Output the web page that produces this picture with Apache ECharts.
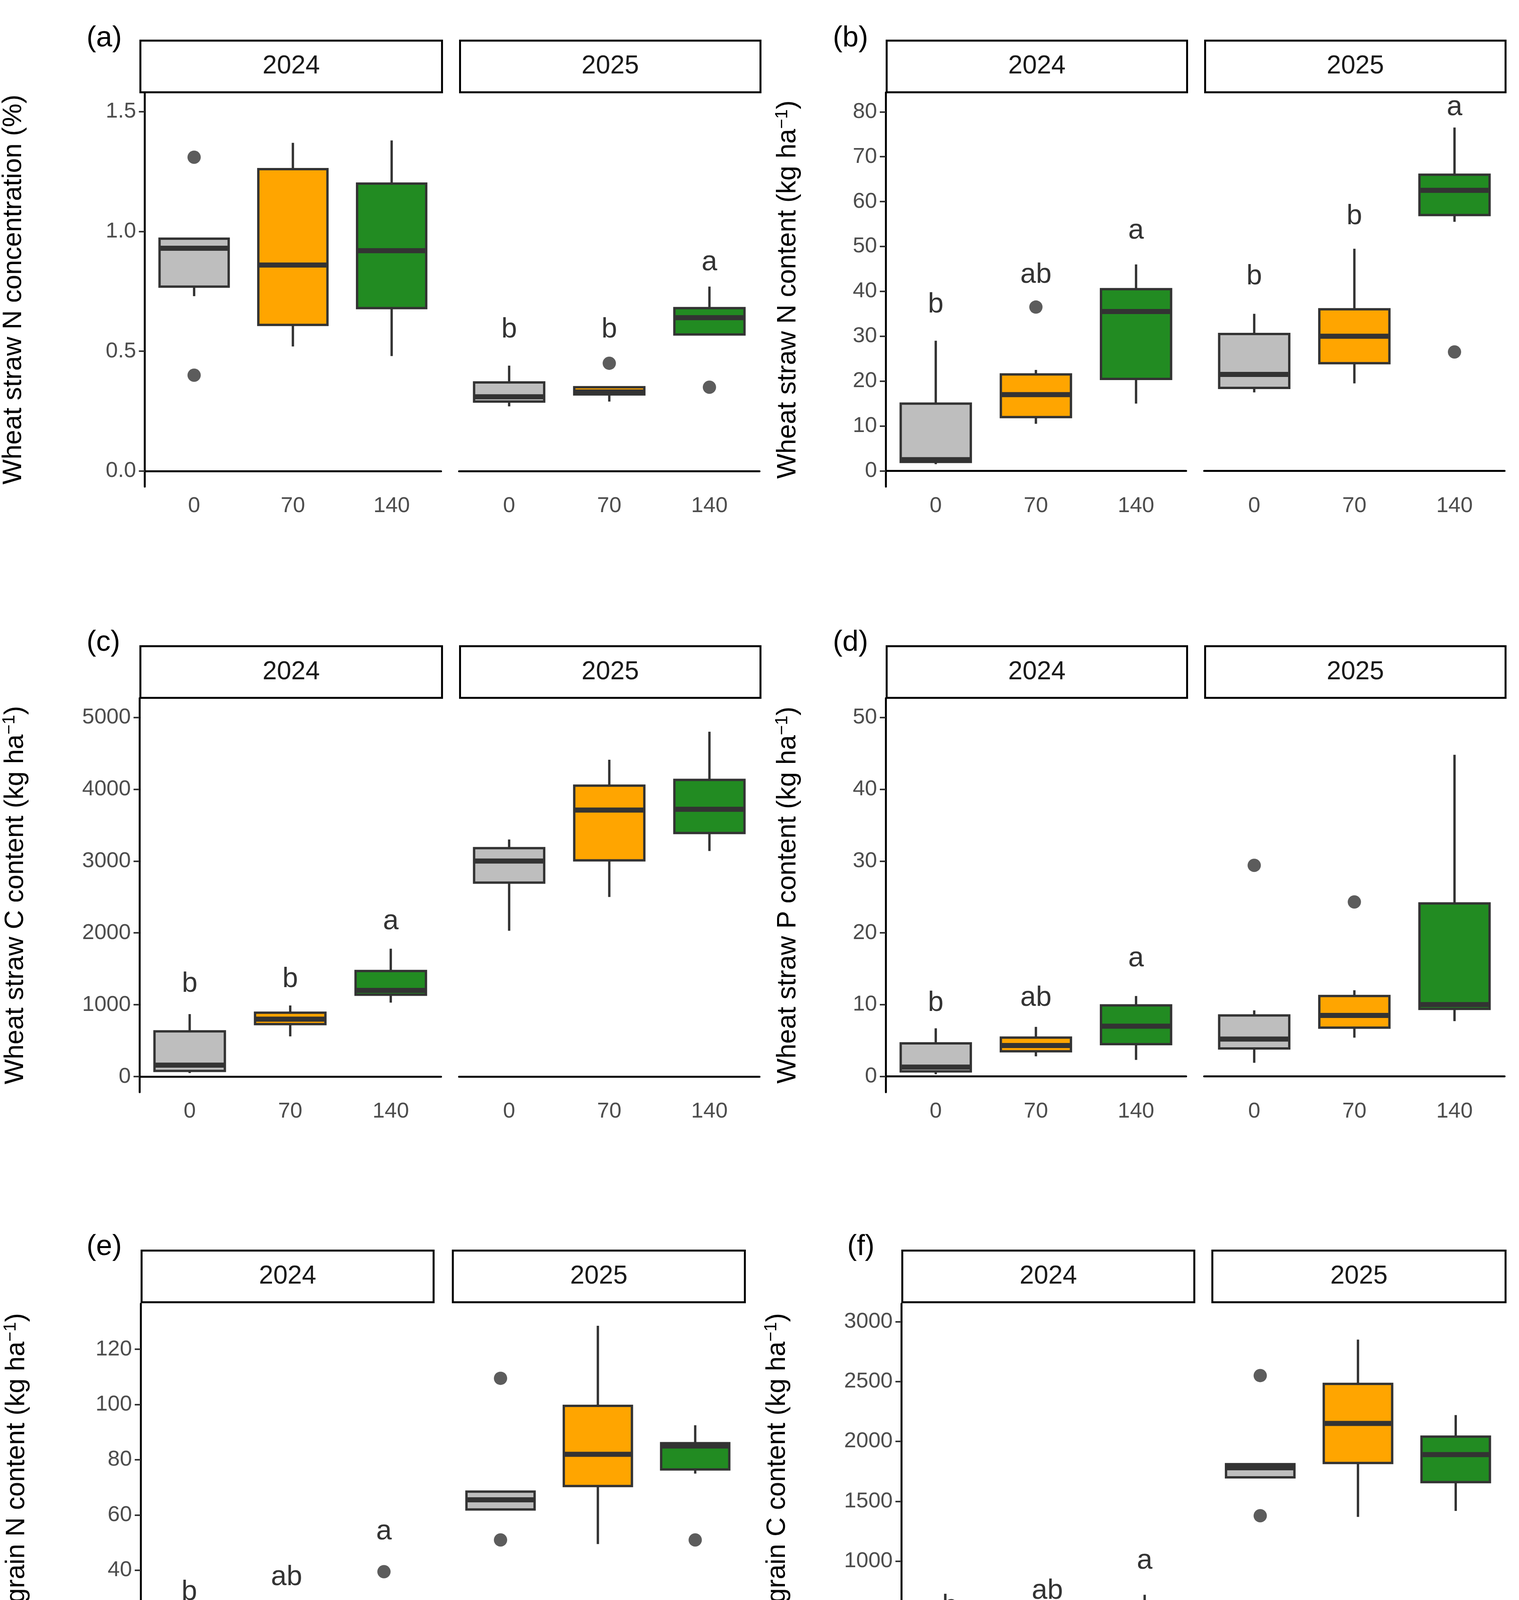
<!DOCTYPE html>
<html><head><meta charset="utf-8">
<script src="https://cdn.jsdelivr.net/npm/echarts@6/dist/echarts.min.js"></script>
<style>html,body{margin:0;background:#fff}#c{width:3888px;height:4819px}</style>
</head><body><div id="c"></div>
<script>
const doses = ['0', '70', '140'];
const years = ['2024', '2025'];
const doseColors = ['#BEBEBE', '#FFA500', '#228B22'];

// [min, Q1, median, Q3, max] per dose
const aBox2024 = [[0.73, 0.77, 0.93, 0.97, 0.97], [0.52, 0.61, 0.86, 1.26, 1.37], [0.48, 0.68, 0.92, 1.20, 1.38]];
const aBox2025 = [[0.27, 0.29, 0.31, 0.37, 0.44], [0.29, 0.32, 0.33, 0.35, 0.35], [0.57, 0.57, 0.64, 0.68, 0.77]];
const aOut2024 = [[0, 1.31], [0, 0.40]];
const aOut2025 = [[1, 0.45], [2, 0.35]];
const aLet2024 = [];
const aLet2025 = [[0, 0.59, 'b'], [1, 0.59, 'b'], [2, 0.87, 'a']];

const bBox2024 = [[1.5, 2, 2.5, 15, 29], [10.5, 12, 17, 21.5, 22.5], [15, 20.5, 35.5, 40.5, 46]];
const bBox2025 = [[17.5, 18.5, 21.5, 30.5, 35], [19.5, 24, 30, 36, 49.5], [55.5, 57, 62.5, 66, 76.5]];
const bOut2024 = [[1, 36.5]];
const bOut2025 = [[2, 26.5]];
const bLet2024 = [[0, 37, 'b'], [1, 43.6, 'ab'], [2, 53.5, 'a']];
const bLet2025 = [[0, 43.3, 'b'], [1, 56.7, 'b'], [2, 81, 'a']];

const cBox2024 = [[50, 80, 160, 630, 870], [560, 730, 800, 890, 990], [1030, 1140, 1200, 1470, 1780]];
const cBox2025 = [[2030, 2700, 3000, 3180, 3300], [2500, 3010, 3710, 4050, 4410], [3140, 3390, 3720, 4130, 4800]];
const cOut2024 = [];
const cOut2025 = [];
const cLet2024 = [[0, 1290, 'b'], [1, 1355, 'b'], [2, 2157, 'a']];
const cLet2025 = [];

const dBox2024 = [[0.3, 0.7, 1.3, 4.6, 6.7], [2.8, 3.5, 4.3, 5.4, 6.9], [2.3, 4.5, 7.0, 9.9, 11.2]];
const dBox2025 = [[1.9, 3.9, 5.2, 8.5, 9.2], [5.4, 6.8, 8.5, 11.2, 12], [7.7, 9.4, 10, 24.1, 44.8]];
const dOut2024 = [];
const dOut2025 = [[0, 29.4], [1, 24.3]];
const dLet2024 = [[0, 10.2, 'b'], [1, 10.9, 'ab'], [2, 16.4, 'a']];
const dLet2025 = [];

const eBox2024 = [[3.5, 4.5, 7.5, 12.5, 18], [10, 11.5, 16.5, 19.5, 22], [9.5, 17.5, 20.5, 24.5, 25]];
const eBox2025 = [[62, 62, 65.5, 68.5, 68.5], [49.5, 70.5, 82, 99.5, 128.5], [75, 76.5, 85, 86, 92.5]];
const eOut2024 = [[2, 39.5]];
const eOut2025 = [[0, 109.5], [0, 51], [2, 51]];
const eLet2024 = [[0, 32, 'b'], [1, 37.4, 'ab'], [2, 54, 'a']];
const eLet2025 = [];

const fBox2024 = [[80, 130, 150, 270, 300], [190, 270, 330, 380, 420], [290, 320, 400, 520, 720]];
const fBox2025 = [[1700, 1700, 1780, 1810, 1810], [1370, 1820, 2150, 2480, 2850], [1420, 1660, 1890, 2040, 2220]];
const fOut2024 = [];
const fOut2025 = [[0, 2550], [0, 1380]];
const fLet2024 = [[0, 622, 'b'], [1, 752, 'ab'], [2, 1003, 'a']];
const fLet2025 = [];

const S = 3888 / 1264;
const FONT = 'Liberation Sans, Arial';
const panels = [
  {tag: '(a)', name: 'Wheat straw N concentration (%)', box: [aBox2024, aBox2025], out: [aOut2024, aOut2025], lets: [aLet2024, aLet2025],
   min: -0.065, max: 1.58, ticks: [0, 0.5, 1, 1.5], dec: 1, cols: [[116, 367], [382, 632]], rows: [77, 405], strip: [33, 76], gap: 98, tagX: 72, tagY: 20},
  {tag: '(b)', name: 'Wheat straw N content (kg ha{s|−1})', box: [bBox2024, bBox2025], out: [bOut2024, bOut2025], lets: [bLet2024, bLet2025],
   min: -3.5, max: 84.3, ticks: [0, 10, 20, 30, 40, 50, 60, 70, 80], dec: 0, cols: [[737, 987], [1002, 1252]], rows: [77, 405], strip: [33, 76], gap: 69, tagX: 693, tagY: 20},
  {tag: '(c)', name: 'Wheat straw C content (kg ha{s|−1})', box: [cBox2024, cBox2025], out: [cOut2024, cOut2025], lets: [cLet2024, cLet2025],
   min: -217, max: 5268, ticks: [0, 1000, 2000, 3000, 4000, 5000], dec: 0, cols: [[116, 367], [382, 632]], rows: [581, 909], strip: [537, 580], gap: 91, tagX: 72, tagY: 523},
  {tag: '(d)', name: 'Wheat straw P content (kg ha{s|−1})', box: [dBox2024, dBox2025], out: [dOut2024, dOut2025], lets: [dLet2024, dLet2025],
   min: -2.2, max: 52.7, ticks: [0, 10, 20, 30, 40, 50], dec: 0, cols: [[737, 987], [1002, 1252]], rows: [581, 909], strip: [537, 580], gap: 69, tagX: 693, tagY: 523},
  {tag: '(e)', name: 'Wheat grain N content (kg ha{s|−1})', box: [eBox2024, eBox2025], out: [eOut2024, eOut2025], lets: [eLet2024, eLet2025],
   min: -5.7, max: 136.5, ticks: [0, 20, 40, 60, 80, 100, 120], dec: 0, cols: [[117, 360], [376, 619]], rows: [1085, 1412], strip: [1040, 1083], gap: 91, tagX: 72, tagY: 1026},
  {tag: '(f)', name: 'Wheat grain C content (kg ha{s|−1})', box: [fBox2024, fBox2025], out: [fOut2024, fOut2025], lets: [fLet2024, fLet2025],
   min: -130, max: 3150, ticks: [0, 500, 1000, 1500, 2000, 2500, 3000], dec: 0, cols: [[750, 993], [1008, 1252]], rows: [1085, 1412], strip: [1040, 1083], gap: 91, tagX: 705, tagY: 1026}
];

// ggplot-style box: no whisker caps, thick median
function renderBox(params, api) {
  const c = api.value(0);
  const half = api.size([1, 0])[0] * 0.35;
  const p = [1, 2, 3, 4, 5].map(i => api.coord([c, api.value(i)]));
  const x = p[0][0];
  const col = doseColors[api.value(6)];
  const ln = {stroke: '#333', lineWidth: 6};
  return {type: 'group', children: [
    {type: 'line', shape: {x1: x, y1: p[0][1], x2: x, y2: p[1][1]}, style: ln},
    {type: 'line', shape: {x1: x, y1: p[3][1], x2: x, y2: p[4][1]}, style: ln},
    {type: 'rect', shape: {x: x - half, y: p[3][1], width: 2 * half, height: p[1][1] - p[3][1]}, style: {fill: col, stroke: '#333', lineWidth: 6}},
    {type: 'line', shape: {x1: x - half, y1: p[2][1], x2: x + half, y2: p[2][1]}, style: {stroke: '#333', lineWidth: 13}}
  ]};
}

const grid = [], xAxis = [], yAxis = [], series = [], graphic = [];
panels.forEach(p => {
  graphic.push({type: 'text', left: p.tagX * S, top: p.tagY * S, style: {text: p.tag, font: '74px ' + FONT, fill: '#000'}});
  years.forEach((yr, k) => {
    const gi = grid.length;
    const [x1, x2] = p.cols[k];
    grid.push({left: x1 * S, top: p.rows[0] * S, width: (x2 - x1) * S, height: (p.rows[1] - p.rows[0]) * S});
    graphic.push({type: 'group', left: x1 * S, top: p.strip[0] * S, children: [
      {type: 'rect', shape: {x: 0, y: 0, width: (x2 - x1) * S, height: (p.strip[1] - p.strip[0]) * S}, style: {fill: '#fff', stroke: '#000', lineWidth: 5}},
      {type: 'text', x: (x2 - x1) * S / 2, y: (p.strip[1] - p.strip[0]) * S / 2, style: {text: yr, font: '66px ' + FONT, fill: '#1a1a1a', align: 'center', verticalAlign: 'middle'}}
    ]});
    xAxis.push({type: 'category', gridIndex: gi, data: doses,
      axisLine: {lineStyle: {color: '#000', width: 5}}, axisTick: {alignWithLabel: true, length: 15, lineStyle: {color: '#333', width: 4}},
      axisLabel: {fontSize: 56, color: '#4d4d4d', margin: 22, fontFamily: FONT}});
    yAxis.push({type: 'value', gridIndex: gi, min: p.min, max: p.max, splitLine: {show: false},
      name: k === 0 ? p.name : '', nameLocation: 'middle', nameGap: p.gap * S,
      nameTextStyle: {fontSize: 68, color: '#000', fontFamily: FONT, rich: {s: {fontSize: 44, verticalAlign: 'top', padding: [0, 0, 30, 0], color: '#000'}}},
      axisLine: {show: k === 0, lineStyle: {color: '#000', width: 5}},
      axisTick: {show: k === 0, length: 15, customValues: p.ticks, lineStyle: {color: '#333', width: 4}},
      axisLabel: {show: k === 0, customValues: p.ticks, fontSize: 56, color: '#4d4d4d', margin: 22, fontFamily: FONT,
        formatter: v => v.toFixed(p.dec)}});
    series.push({type: 'custom', xAxisIndex: gi, yAxisIndex: gi, silent: true, renderItem: renderBox,
      encode: {x: 0, y: [1, 2, 3, 4, 5]},
      data: p.box[k].map((v, i) => [i].concat(v, [i]))});
    series.push({type: 'scatter', xAxisIndex: gi, yAxisIndex: gi, symbolSize: 34, itemStyle: {color: '#333'}, data: p.out[k]});
    series.push({type: 'scatter', xAxisIndex: gi, yAxisIndex: gi, symbolSize: 0, data: p.lets[k],
      label: {show: true, position: 'inside', formatter: q => q.data[2], fontSize: 72, color: '#000', fontFamily: FONT}});
  });
});

// hidden grid for legend entries
const hg = grid.length;
grid.push({left: 0, top: 0, width: 1, height: 1, show: false});
xAxis.push({type: 'category', gridIndex: hg, show: false, data: ['x']});
yAxis.push({type: 'value', gridIndex: hg, show: false});
doses.forEach((d, i) => series.push({type: 'bar', name: d, xAxisIndex: hg, yAxisIndex: hg, data: [],
  itemStyle: {color: doseColors[i], borderColor: '#333', borderWidth: 6}}));

const chart = echarts.init(document.getElementById('c'));
chart.setOption({
  animation: false,
  backgroundColor: '#fff',
  grid, xAxis, yAxis, series, graphic,
  legend: {data: doses, left: 'center', top: 1516 * S, icon: 'rect', itemWidth: 105, itemHeight: 60, itemGap: 70,
    textStyle: {fontSize: 66, color: '#000', fontFamily: FONT}}
});
</script></body></html>
